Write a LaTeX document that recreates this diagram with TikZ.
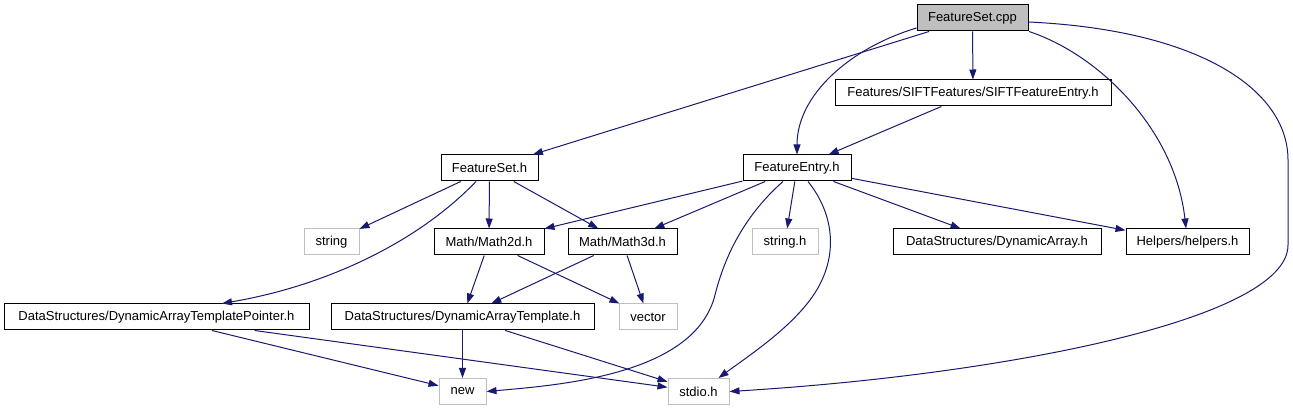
\documentclass[tikz,border=0pt]{standalone}
\usepackage{fontspec}
\setmainfont{Liberation Sans}
\usetikzlibrary{arrows.meta}
\definecolor{edgeblue}{HTML}{191970}
\definecolor{boxgray}{HTML}{BFBFBF}
\tikzset{file/.style={draw=black,line width=1pt,inner sep=0pt,minimum height=26pt,font=\fontsize{13pt}{15pt}\selectfont},
         sysfile/.style={file,draw=boxgray},
         root/.style={file,fill=boxgray},
         dep/.style={edgeblue,line width=1pt,-{Triangle[length=10pt,width=7pt]}}}

\begin{document}
\begin{tikzpicture}[x=1pt,y=-1pt]
                \useasboundingbox (0,0) rectangle (1293,411);
                \node[root,minimum width=111pt] (cpp) at (972.5,18) {FeatureSet.cpp};
                \node[file,minimum width=276pt] (sift) at (973,93) {Features/SIFTFeatures/SIFTFeatureEntry.h};
                \node[file,minimum width=97pt] (fsh) at (489.5,168) {FeatureSet.h};
                \node[file,minimum width=108pt] (fe) at (797,168) {FeatureEntry.h};
                \node[sysfile,minimum width=55pt] (str) at (331.5,242) {string};
                \node[file,minimum width=110pt] (m2d) at (489,242) {Math/Math2d.h};
                \node[file,minimum width=109pt] (m3d) at (622.5,242) {Math/Math3d.h};
                \node[sysfile,minimum width=66pt] (strh) at (785,242) {string.h};
                \node[file,minimum width=208pt] (da) at (997,242) {DataStructures/DynamicArray.h};
                \node[file,minimum width=123pt] (help) at (1187.5,242) {Helpers/helpers.h};
                \node[file,minimum width=305pt] (datp) at (156.5,317) {DataStructures/DynamicArrayTemplatePointer.h};
                \node[file,minimum width=263pt] (dat) at (462.5,317) {DataStructures/DynamicArrayTemplate.h};
                \node[sysfile,minimum width=58pt] (vec) at (648,317) {vector};
                \node[sysfile,minimum width=47pt] (new) at (462.5,391.5) {new};
                \node[sysfile,minimum width=61pt] (stdio) at (698.5,391.5) {stdio.h};

                \foreach \src/\dst in {cpp/fsh,cpp/sift,sift/fe,fsh/str,fsh/m2d,fsh/m3d,
                                       fe/m2d,fe/m3d,fe/strh,fe/da,fe/help,m2d/dat,m2d/vec,
                                       m3d/dat,m3d/vec,datp/new,datp/stdio,dat/new,dat/stdio} {
                    \draw[dep] (\src) -- (\dst);
                }
                \draw[dep] ([yshift=-10pt]cpp.west) .. controls (850,48) and (797,95) .. (fe.north);
                \draw[dep] ([xshift=56.5pt]cpp.south) .. controls (1100,55) and (1175,130) .. ([xshift=-1.5pt]help.north);
                \draw[dep] ([yshift=-4pt]cpp.east) .. controls (1200,30) and (1288,90) .. (1288,160)
                    -- (1288,245) .. controls (1288,320) and (1000,375) .. (stdio.east);
                \draw[dep] ([xshift=-13.5pt]fsh.south) .. controls (420,240) and (330,285) .. ([xshift=65.5pt]datp.north);
                \draw[dep] ([xshift=-14pt]fe.south) .. controls (745,215) and (725,255) .. (715,295)
                    .. controls (695,375) and (560,385) .. (new.east);
                \draw[dep] ([xshift=11pt]fe.south) .. controls (835,215) and (840,260) .. (810,300)
                    .. controls (787.5,330) and (750,355) .. ([xshift=20pt]stdio.north);
            \end{tikzpicture}
\end{document}
